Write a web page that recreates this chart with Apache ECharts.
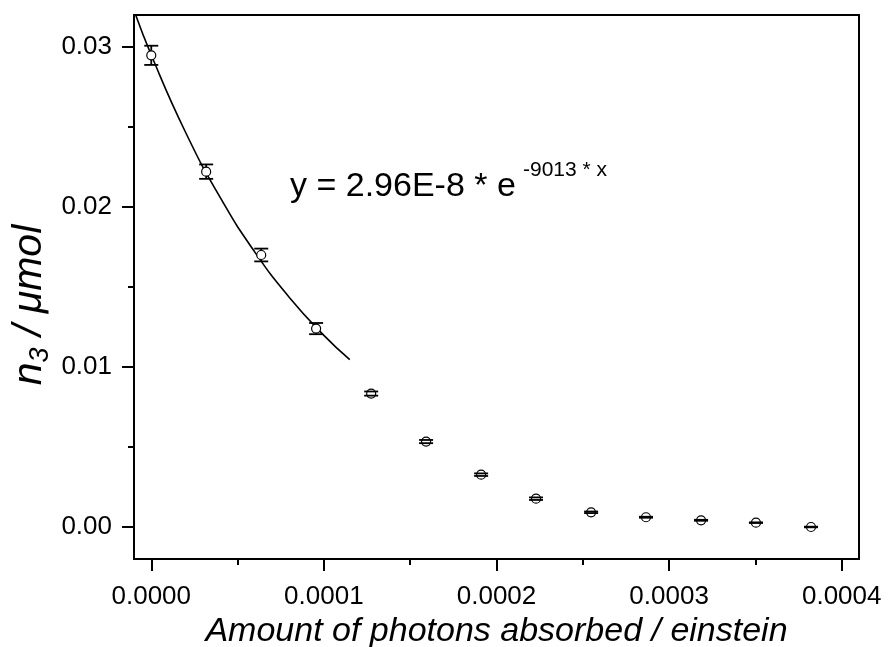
<!DOCTYPE html>
<html>
<head>
<meta charset="utf-8">
<script src="https://cdn.jsdelivr.net/npm/echarts@6/dist/echarts.min.js"></script>
<style>html,body{margin:0;padding:0;background:#fff}#c{width:888px;height:647px}</style>
</head>
<body>
<div id="c"></div>
<script>
// Measured data points
const photons = [0, 0.0000318, 0.0000637, 0.0000955, 0.0001274, 0.0001592, 0.0001911, 0.0002229, 0.0002548, 0.0002866, 0.0003185, 0.0003503, 0.0003822];
const n3 = [0.02948, 0.02221, 0.01700, 0.01240, 0.00834, 0.00534, 0.00327, 0.00177, 0.00092, 0.00061, 0.00042, 0.00027, 0.00000];
const n3Err = [0.00060, 0.00045, 0.00040, 0.00035, 0.00013, 0.00010, 0.00008, 0.00008, 0.00005, 0.00003, 0.00003, 0.00002, 0.00002];
// Fit curve
const fitX = [-0.00001, 0, 0.00002, 0.00004, 0.00006, 0.00008, 0.0001, 0.000115];
const fitY = [0.0323, 0.0295, 0.02464, 0.02058, 0.01718, 0.01435, 0.01198, 0.01046];
// Ticks
const xMajor = [0, 0.0001, 0.0002, 0.0003, 0.0004];
const xMinor = [0.00005, 0.00015, 0.00025, 0.00035];
const yMajor = [0, 0.01, 0.02, 0.03];
const yMinor = [0.005, 0.015, 0.025];
const xTitle = 'Amount of photons absorbed / einstein';
const yTitle = '{i|n}{s|3}{i| / μmol}';
const eqMain = 'y = 2.96E-8 * e';
const eqSup = '-9013 * x';

const FONT = '"Liberation Sans", Arial, sans-serif';
const chart = echarts.init(document.getElementById('c'), null, {renderer: 'canvas'});

const xBase = {type: 'value', min: -0.00001, max: 0.00041, splitLine: {show: false}, position: 'bottom'};
const yBase = {type: 'value', min: -0.002, max: 0.032, splitLine: {show: false}, position: 'left'};

chart.setOption({
  animation: false,
  backgroundColor: '#fff',
  grid: {left: 134, right: 29, top: 15, bottom: 88, show: true, borderColor: '#000', borderWidth: 2,
    containLabel: false, outerBoundsMode: 'none'},
  xAxis: [
    Object.assign({}, xBase, {
      axisLine: {show: true, onZero: false, lineStyle: {color: '#000', width: 2}},
      axisTick: {show: true, customValues: xMajor, length: 12, lineStyle: {color: '#000', width: 2}},
      axisLabel: {show: true, customValues: xMajor, margin: 25, color: '#000', fontSize: 26, fontFamily: FONT,
        formatter: v => v.toFixed(4)},
      name: xTitle, nameLocation: 'middle', nameGap: 47,
      nameTextStyle: {color: '#000', fontSize: 34, fontStyle: 'italic', fontFamily: FONT}
    }),
    Object.assign({}, xBase, {
      axisLine: {show: false, onZero: false},
      axisTick: {show: true, customValues: xMinor, length: 6, lineStyle: {color: '#000', width: 2}},
      axisLabel: {show: false}
    })
  ],
  yAxis: [
    Object.assign({}, yBase, {
      axisLine: {show: true, onZero: false, lineStyle: {color: '#000', width: 2}},
      axisTick: {show: true, customValues: yMajor, length: 12, lineStyle: {color: '#000', width: 2}},
      axisLabel: {show: true, customValues: yMajor, margin: 22, color: '#000', fontSize: 26, fontFamily: FONT,
        formatter: v => v.toFixed(2)}
    }),
    Object.assign({}, yBase, {
      axisLine: {show: false, onZero: false},
      axisTick: {show: true, customValues: yMinor, length: 6, lineStyle: {color: '#000', width: 2}},
      axisLabel: {show: false}
    })
  ],
  graphic: [
    {type: 'text', left: 290, top: 170, z: 100, style: {text: eqMain, font: '34px ' + FONT, fill: '#000'}},
    {type: 'text', left: 523, top: 160, z: 100, style: {text: eqSup, font: '21px ' + FONT, fill: '#000'}},
    {type: 'text', x: 27, y: 305, rotation: Math.PI / 2, z: 100, style: {
      text: yTitle, align: 'center', verticalAlign: 'middle', fill: '#000',
      rich: {
        i: {fontSize: 41, fontStyle: 'italic', fontFamily: FONT, fill: '#000', lineHeight: 46, verticalAlign: 'bottom'},
        s: {fontSize: 27, fontStyle: 'italic', fontFamily: FONT, fill: '#000', lineHeight: 27, verticalAlign: 'bottom', padding: [0, 0, -4, 0]}
      }
    }}
  ],
  series: [
    {
      type: 'line', xAxisIndex: 0, yAxisIndex: 0, smooth: true, showSymbol: false, clip: true,
      data: fitX.map((x, i) => [x, fitY[i]]),
      lineStyle: {color: '#000', width: 1.6}, z: 2
    },
    {
      type: 'scatter', xAxisIndex: 0, yAxisIndex: 0, symbol: 'circle', symbolSize: 9,
      data: photons.map((x, i) => [x, n3[i]]),
      itemStyle: {color: '#fff', borderColor: '#000', borderWidth: 1.2, opacity: 1}, z: 3
    },
    {
      type: 'custom', xAxisIndex: 0, yAxisIndex: 0, z: 4,
      data: photons.map((x, i) => [x, n3[i], n3Err[i]]),
      renderItem: function (params, api) {
        const x = api.value(0), y = api.value(1), e = api.value(2);
        const c = api.coord([x, y]);
        const top = api.coord([x, y + e]);
        const bot = api.coord([x, y - e]);
        const r = 4.5, hw = 7;
        const st = {stroke: '#000', lineWidth: 1.8, fill: null};
        const ch = [
          {type: 'line', shape: {x1: top[0] - hw, y1: top[1], x2: top[0] + hw, y2: top[1]}, style: st},
          {type: 'line', shape: {x1: bot[0] - hw, y1: bot[1], x2: bot[0] + hw, y2: bot[1]}, style: st}
        ];
        if (c[1] - top[1] > r) ch.push({type: 'line', shape: {x1: c[0], y1: top[1], x2: c[0], y2: c[1] - r}, style: st});
        if (bot[1] - c[1] > r) ch.push({type: 'line', shape: {x1: c[0], y1: c[1] + r, x2: c[0], y2: bot[1]}, style: st});
        return {type: 'group', children: ch};
      }
    }
  ]
});
</script>
</body>
</html>
